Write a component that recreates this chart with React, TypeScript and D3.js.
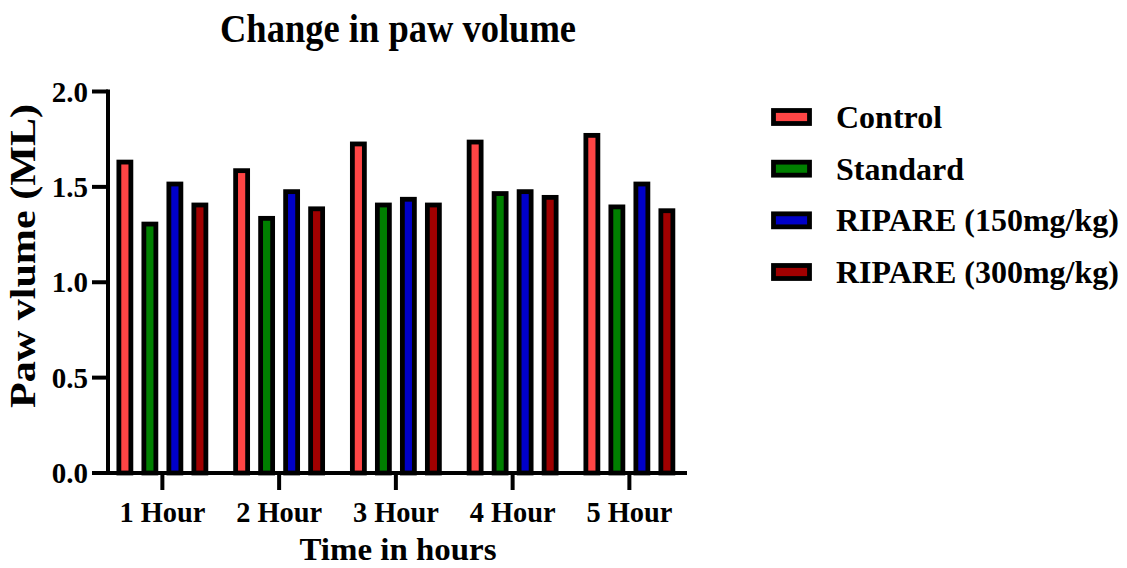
import React, { useEffect, useRef } from 'react'
import * as d3 from 'd3'

const hours = ['1 Hour', '2 Hour', '3 Hour', '4 Hour', '5 Hour']
const groups = ['Control', 'Standard', 'RIPARE (150mg/kg)', 'RIPARE (300mg/kg)']
const colors = ['#FF4545', '#008000', '#0000C8', '#A00000']
const control = [1.63, 1.585, 1.725, 1.735, 1.77]
const standard = [1.305, 1.335, 1.405, 1.465, 1.395]
const ripare150 = [1.515, 1.475, 1.435, 1.475, 1.515]
const ripare300 = [1.405, 1.385, 1.405, 1.445, 1.375]
const yTicks = [0, 0.5, 1.0, 1.5, 2.0]

const font = '"Liberation Serif", "Times New Roman", serif'

const App = () => {
    const svgRef = useRef<SVGSVGElement>(null)

    useEffect(() => {
        const svg: any = d3.select(svgRef.current)
        svg.selectAll('*').remove()
        const series = [control, standard, ripare150, ripare300]

        const x = d3.scaleBand<string>().domain(hours).range([104, 687.75])
        const inner = d3.scaleBand<number>().domain([0, 1, 2, 3]).range([-50, 50])
        const y = d3.scaleLinear().domain([0, 2]).range([473, 91.5])

        // bars
        const g = svg.append('g')
        hours.forEach((h, i) => {
            series.forEach((s, k) => {
                const cx = x(h)! + x.bandwidth() / 2 + inner(k)! + inner.bandwidth() / 2
                g.append('rect')
                    .attr('x', cx - 6)
                    .attr('width', 12)
                    .attr('y', y(s[i]))
                    .attr('height', y(0) - y(s[i]))
                    .attr('fill', colors[k])
                    .attr('stroke', '#000')
                    .attr('stroke-width', 4.8)
            })
        })

        // y axis
        const ya = svg.append('g')
        ya.append('line').attr('x1', 108).attr('x2', 108).attr('y1', y(2) - 2).attr('y2', y(0) + 2)
            .attr('stroke', '#000').attr('stroke-width', 4)
        yTicks.forEach(t => {
            ya.append('line').attr('x1', 92).attr('x2', 108).attr('y1', y(t)).attr('y2', y(t))
                .attr('stroke', '#000').attr('stroke-width', 4)
            ya.append('text').attr('x', 88).attr('y', y(t) + 10).attr('text-anchor', 'end')
                .attr('font-size', 29).attr('font-weight', 'bold').attr('font-family', font)
                .text(t.toFixed(1))
        })

        // x axis
        const xa = svg.append('g')
        xa.append('line').attr('x1', 106).attr('x2', 687).attr('y1', y(0)).attr('y2', y(0))
            .attr('stroke', '#000').attr('stroke-width', 4)
        hours.forEach(h => {
            const cx = x(h)! + x.bandwidth() / 2
            xa.append('line').attr('x1', cx).attr('x2', cx).attr('y1', y(0)).attr('y2', y(0) + 17)
                .attr('stroke', '#000').attr('stroke-width', 4)
            xa.append('text').attr('x', cx).attr('y', 522).attr('text-anchor', 'middle')
                .attr('font-size', 29).attr('font-weight', 'bold').attr('font-family', font)
                .attr('textLength', 86).attr('lengthAdjust', 'spacingAndGlyphs')
                .text(h)
        })

        // titles
        svg.append('text').attr('x', 398).attr('y', 42).attr('text-anchor', 'middle')
            .attr('font-size', 39).attr('font-weight', 'bold').attr('font-family', font)
            .attr('textLength', 356).attr('lengthAdjust', 'spacingAndGlyphs')
            .text('Change in paw volume')
        svg.append('text').attr('x', 398).attr('y', 560).attr('text-anchor', 'middle')
            .attr('font-size', 31).attr('font-weight', 'bold').attr('font-family', font)
            .attr('textLength', 197).attr('lengthAdjust', 'spacingAndGlyphs')
            .text('Time in hours')
        svg.append('text').attr('transform', 'translate(35,256) rotate(-90)').attr('text-anchor', 'middle')
            .attr('font-size', 35).attr('font-weight', 'bold').attr('font-family', font)
            .attr('textLength', 304).attr('lengthAdjust', 'spacingAndGlyphs')
            .text('Paw vlume (ML)')

        // legend
        const legendY = d3.scalePoint<string>().domain(groups).range([117, 272])
        groups.forEach((name, k) => {
            const cy = legendY(name)!
            svg.append('rect').attr('x', 773.5).attr('y', cy - 6.5).attr('width', 36).attr('height', 13)
                .attr('fill', colors[k]).attr('stroke', '#000').attr('stroke-width', 4.8)
            svg.append('text').attr('x', 836).attr('y', cy + 11)
                .attr('font-size', 32).attr('font-weight', 'bold').attr('font-family', font)
                .text(name)
        })
    }, [])

    return (
        <svg ref={svgRef} width={1127} height={568}
            style={{ position: 'absolute', left: 0, top: 0, background: '#fff' }} />
    )
}

export default App
